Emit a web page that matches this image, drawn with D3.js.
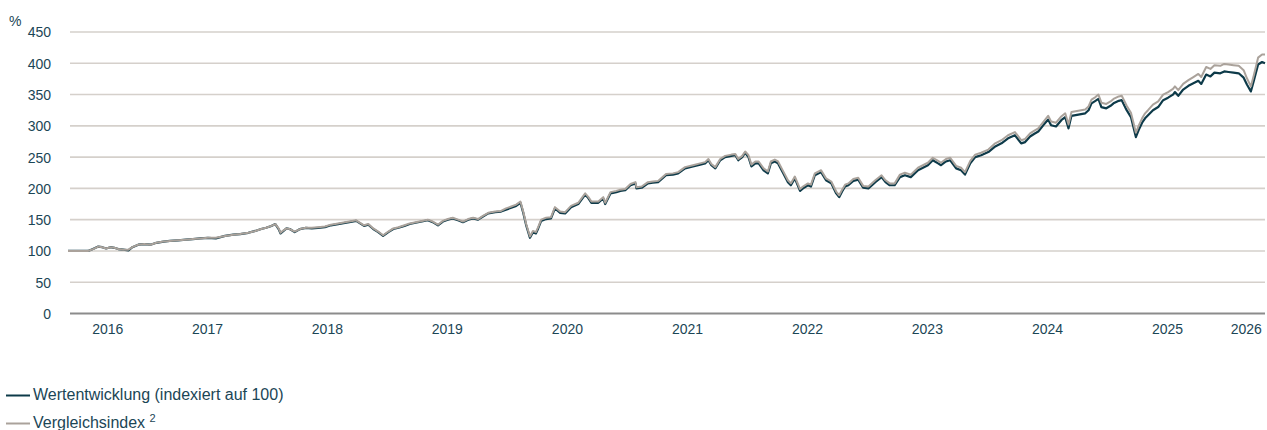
<!DOCTYPE html>
<html>
<head>
<meta charset="utf-8">
<script src="https://cdn.jsdelivr.net/npm/d3@7"></script>
<style>
  html, body { margin: 0; padding: 0; background: #ffffff; }
  svg { display: block; font-family: "Liberation Sans", Arial, sans-serif; }
</style>
</head>
<body>
<svg id="chart" width="1267" height="430"></svg>
<script>
// ---- data ----
const dates = [
"2016-05-04","2016-06-04","2016-07-04","2016-07-19","2016-08-04","2016-08-16","2016-08-28","2016-09-10","2016-09-22","2016-10-04",
"2016-10-19","2016-11-04","2016-11-16","2016-12-04","2016-12-22","2017-01-10","2017-01-28","2017-02-19","2017-03-10","2017-04-04",
"2017-04-28","2017-05-19","2017-06-10","2017-07-04","2017-07-28","2017-08-25","2017-09-19","2017-10-10","2017-11-04","2017-11-25",
"2017-12-13","2017-12-28","2018-01-13","2018-01-25","2018-02-04","2018-02-10","2018-02-19","2018-02-28","2018-03-10","2018-03-25",
"2018-04-10","2018-04-28","2018-05-16","2018-06-04","2018-06-25","2018-07-13","2018-08-04","2018-08-25","2018-09-16","2018-09-28",
"2018-10-10","2018-10-22","2018-11-04","2018-11-19","2018-12-04","2018-12-19","2019-01-04","2019-01-19","2019-02-04","2019-02-22",
"2019-03-10","2019-03-28","2019-04-16","2019-05-04","2019-05-19","2019-06-04","2019-06-19","2019-07-04","2019-07-19","2019-08-04",
"2019-08-19","2019-09-04","2019-09-19","2019-10-04","2019-10-19","2019-11-04","2019-11-25","2019-12-13","2019-12-28","2020-01-13",
"2020-01-28","2020-02-10","2020-02-19","2020-02-28","2020-03-10","2020-03-19","2020-03-28","2020-04-04","2020-04-13","2020-04-28",
"2020-05-13","2020-05-25","2020-06-10","2020-06-25","2020-07-13","2020-08-04","2020-08-25","2020-09-04","2020-09-13","2020-10-04",
"2020-10-19","2020-10-25","2020-11-10","2020-11-28","2020-12-10","2020-12-25","2021-01-10","2021-01-25","2021-01-28","2021-02-13",
"2021-03-04","2021-03-19","2021-04-04","2021-04-28","2021-05-19","2021-06-04","2021-06-25","2021-07-19","2021-08-10","2021-08-25",
"2021-09-04","2021-09-13","2021-09-25","2021-10-10","2021-10-25","2021-11-13","2021-11-25","2021-12-04","2021-12-16","2021-12-25",
"2022-01-04","2022-01-13","2022-01-25","2022-02-04","2022-02-19","2022-03-04","2022-03-13","2022-03-25","2022-04-04","2022-04-19",
"2022-05-04","2022-05-13","2022-05-25","2022-06-10","2022-06-19","2022-07-04","2022-07-13","2022-07-25","2022-08-13","2022-08-28",
"2022-09-13","2022-09-28","2022-10-07","2022-10-16","2022-10-25","2022-11-04","2022-11-19","2022-12-04","2022-12-19","2023-01-04",
"2023-01-25","2023-02-13","2023-02-25","2023-03-10","2023-03-25","2023-04-10","2023-04-25","2023-05-13","2023-06-04","2023-06-19",
"2023-07-04","2023-07-19","2023-08-04","2023-08-13","2023-08-28","2023-09-10","2023-09-28","2023-10-13","2023-10-25","2023-11-10",
"2023-11-25","2023-12-13","2024-01-04","2024-01-25","2024-02-13","2024-03-04","2024-03-25","2024-04-13","2024-04-25","2024-05-10",
"2024-05-22","2024-06-04","2024-06-19","2024-07-04","2024-07-13","2024-07-28","2024-08-13","2024-08-25","2024-09-04","2024-09-13",
"2024-10-04","2024-10-25","2024-11-04","2024-11-13","2024-11-25","2024-12-04","2024-12-13","2024-12-28","2025-01-10","2025-01-19",
"2025-02-04","2025-02-13","2025-02-28","2025-03-13","2025-03-22","2025-03-28","2025-04-07","2025-04-16","2025-04-25","2025-05-04",
"2025-05-19","2025-06-04","2025-06-19","2025-07-04","2025-07-19","2025-07-25","2025-08-04","2025-08-19","2025-09-04","2025-09-19",
"2025-10-04","2025-10-13","2025-10-28","2025-11-10","2025-11-22","2025-12-10","2025-12-22","2026-01-04","2026-01-19","2026-02-04",
"2026-02-19","2026-03-01","2026-03-13","2026-03-22","2026-04-04","2026-04-16","2026-04-25"
];

const fundValues = [
100,100,100,103,107,106,104,106,105,103,
102,101,106,110,111,110,113,115,116,117,
118,119,120,121,120,124,126,127,129,132,
135,137,140,143,135,128,132,136,135,130,
135,137,136,137,138,141,143,145,147,148,
144,140,142,135,130,124,130,135,137,140,
143,145,147,149,146,141,147,150,152,149,
146,150,152,150,155,160,162,163,166,169,
172,177,160,140,121,130,128,136,148,151,
152,168,161,160,170,175,190,184,177,177,
184,175,192,194,196,197,205,208,200,201,
208,209,210,221,222,224,232,235,238,240,
245,237,232,245,250,252,253,245,250,257,
250,235,240,240,229,224,240,243,240,225,
210,205,216,196,200,205,203,221,226,213,
208,192,186,195,203,205,212,214,201,200,
210,218,210,205,205,218,221,218,229,233,
237,245,240,237,243,245,232,229,222,240,
250,253,258,267,272,280,285,272,274,283,
287,291,301,310,301,299,309,314,296,316,
318,320,325,336,340,343,330,328,332,336,
340,341,325,314,295,282,295,305,312,317,
325,330,341,345,350,354,348,358,364,368,
372,367,382,379,385,384,387,386,385,384,
377,366,355,372,398,402,400
];

const indexValues = [
100,100,100,103,107,106,104,106,105,103,
102,102,106,110,111,110,113,115,116,117,
118,119,120,121,121,124,126,127,129,132,
135,137,140,143,136,129,133,136,135,131,
135,137,137,138,139,142,144,146,148,149,
145,141,143,136,131,125,131,136,138,141,
144,146,148,150,147,142,148,151,153,150,
147,151,153,151,156,161,163,164,168,171,
174,179,162,142,123,132,130,138,150,153,
154,170,163,162,172,177,192,186,179,179,
186,177,194,196,198,199,207,210,202,203,
210,211,212,223,224,226,234,237,240,242,
247,239,234,247,252,254,255,247,252,259,
253,238,243,243,232,227,243,246,243,228,
213,208,219,199,203,208,206,224,229,216,
211,195,189,198,206,208,215,217,204,203,
213,221,213,208,208,222,225,222,233,237,
241,249,244,241,247,249,236,233,226,244,
254,257,262,272,277,285,290,277,279,288,
292,296,306,316,307,305,315,320,302,322,
324,326,331,342,346,350,337,335,339,343,
347,348,332,321,302,289,302,312,320,325,
334,339,350,354,359,363,357,367,373,378,
383,378,394,391,397,396,399,398,397,396,
389,376,363,381,409,414,414
];

const yTicks = [0, 50, 100, 150, 200, 250, 300, 350, 400, 450];
const xYears = [2016, 2017, 2018, 2019, 2020, 2021, 2022, 2023, 2024, 2025, 2026];
const seriesNames = ["Wertentwicklung (indexiert auf 100)", "Vergleichsindex"];
const seriesNote = "2";
const yUnit = "%";

// ---- layout ----
const colors = { fund: "#0d3a49", index: "#aaa29b", grid: "#d5d0cb", axis: "#8c8c8c", text: "#1b4656" };
const plot = { left: 70, right: 1265, top: 32, bottom: 313.5 };

const svg = d3.select("#chart");
const parse = d3.timeParse("%Y-%m-%d");
const data = dates.map((d, i) => ({ date: parse(d), fund: fundValues[i], index: indexValues[i] }));

const x = d3.scaleTime()
  .domain(d3.extent(data, d => d.date))
  .range([68, plot.right]);
const y = d3.scaleLinear()
  .domain([0, 450])
  .range([plot.bottom, plot.top]);

// gridlines
svg.append("g").selectAll("line")
  .data(yTicks.filter(t => t > 0))
  .join("line")
  .attr("x1", plot.left).attr("x2", plot.right)
  .attr("y1", d => y(d)).attr("y2", d => y(d))
  .attr("stroke", colors.grid).attr("stroke-width", 1.6);

// y axis labels
const yAxis = d3.axisLeft(y).tickValues(yTicks).tickSize(0).tickPadding(0);
const gy = svg.append("g").attr("transform", "translate(51,0)").call(yAxis);
gy.select(".domain").remove();
gy.selectAll("text")
  .attr("fill", colors.text)
  .style("font-size", "14px")
  .style("font-family", "'Liberation Sans', Arial, sans-serif")
  .attr("dy", "0.35em");

svg.append("text")
  .attr("x", 9).attr("y", 26)
  .attr("fill", colors.text)
  .style("font-size", "14px")
  .text(yUnit);

// baseline (0)
svg.append("line")
  .attr("x1", plot.left).attr("x2", plot.right)
  .attr("y1", y(0)).attr("y2", y(0))
  .attr("stroke", colors.axis).attr("stroke-width", 2.2);

// x year labels centered in visible part of each year
const [d0, d1] = x.domain();
svg.append("g").selectAll("text")
  .data(xYears)
  .join("text")
  .attr("x", yr => {
    const s = new Date(Math.max(+d0, +new Date(yr, 0, 1)));
    const e = new Date(Math.min(+d1, +new Date(yr + 1, 0, 1)));
    return (x(s) + x(e)) / 2;
  })
  .attr("y", 334)
  .attr("text-anchor", "middle")
  .attr("fill", colors.text)
  .style("font-size", "14px")
  .text(d => d);

// lines
const lineFund = d3.line().x(d => x(d.date)).y(d => y(d.fund)).curve(d3.curveLinear);
const lineIndex = d3.line().x(d => x(d.date)).y(d => y(d.index)).curve(d3.curveLinear);

svg.append("path").datum(data)
  .attr("d", lineFund)
  .attr("fill", "none").attr("stroke", colors.fund).attr("stroke-width", 2.2)
  .attr("stroke-linejoin", "round");
svg.append("path").datum(data)
  .attr("d", lineIndex)
  .attr("fill", "none").attr("stroke", colors.index).attr("stroke-width", 2)
  .attr("stroke-linejoin", "round");

// legend
const legend = svg.append("g");
const legendItems = [
  { name: seriesNames[0], color: colors.fund, y: 400, w: 2 },
  { name: seriesNames[1], color: colors.index, y: 428, w: 2 }
];
legendItems.forEach((it, i) => {
  legend.append("line")
    .attr("x1", 6).attr("x2", 30)
    .attr("y1", it.y - 4.5).attr("y2", it.y - 4.5)
    .attr("stroke", it.color).attr("stroke-width", it.w);
  const t = legend.append("text")
    .attr("x", 33).attr("y", it.y)
    .attr("fill", colors.text)
    .style("font-size", "16px")
    .text(it.name);
  if (i === 1) {
    t.append("tspan").text(" ");
    t.append("tspan")
      .attr("dy", -6)
      .style("font-size", "11px")
      .text(seriesNote);
  }
});
</script>
</body>
</html>
